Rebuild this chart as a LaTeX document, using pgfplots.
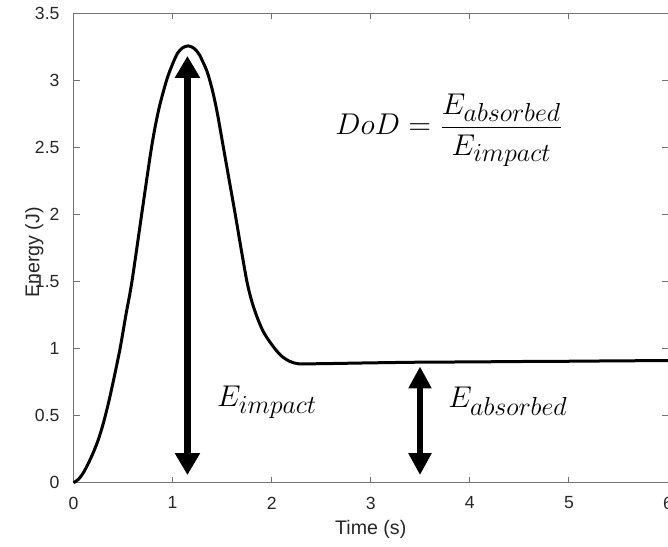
\RequirePackage{fix-cm}
\documentclass[border=0pt]{standalone}
\usepackage{fontspec}
\setmainfont{Liberation Sans}
\usepackage{pgfplots}
\pgfplotsset{compat=1.18}
\usetikzlibrary{arrows.meta,calc}
\DeclareMathSizes{15}{15}{13}{10}
\definecolor{axgray}{HTML}{262626}
\pgfplotstableread{
x y
0.000 0.000
0.050 0.025
0.100 0.075
0.150 0.145
0.200 0.225
0.250 0.320
0.300 0.440
0.350 0.585
0.400 0.750
0.470 1.000
0.530 1.255
0.590 1.500
0.690 2.010
0.790 2.510
0.860 2.780
0.940 3.000
1.000 3.120
1.050 3.200
1.100 3.240
1.159 3.255
1.220 3.235
1.270 3.190
1.300 3.145
1.350 3.060
1.400 2.930
1.450 2.760
1.510 2.510
1.570 2.260
1.630 2.010
1.690 1.750
1.750 1.500
1.800 1.350
1.860 1.220
1.920 1.120
2.000 1.030
2.090 0.950
2.180 0.905
2.270 0.886
2.400 0.886
2.600 0.888
3.000 0.893
3.500 0.898
4.000 0.900
4.500 0.903
5.000 0.905
5.500 0.908
6.000 0.910
}\energy
\begin{document}
\begin{tikzpicture}
\begin{axis}[
  scale only axis, width=297.25pt, height=234.85pt,
  xmin=0, xmax=6, ymin=0, ymax=3.5,
  xtick={0,1,2,3,4,5,6}, ytick={0,0.5,1,1.5,2,2.5,3,3.5},
  axis line style={black!55, line width=0.5pt},
  major tick style={black!55, line width=0.5pt},
  major tick length=3pt,
  tick align=inside,
  /pgf/number format/assume math mode=true,
  ticklabel style={font=\fontsize{8.8}{10}\selectfont, text=axgray},
  xticklabel style={yshift=-3.5pt},
  yticklabel style={xshift=-3.5pt},
  xlabel={Time (s)}, ylabel={Energy (J)},
  every axis x label/.style={font=\fontsize{9.8}{11}\selectfont, text=axgray, at={(axis description cs:0.5,-0.1099)}, anchor=base},
  every axis y label/.style={font=\fontsize{9.8}{11}\selectfont, text=axgray, at={(axis description cs:-0.0575,0.49)}, anchor=base, rotate=89.9},
  clip=false,
]
\addplot[black, line width=1.5pt, smooth, tension=0.5] table[x=x,y=y] {\energy};
\addplot[black, line width=3.3pt, {Triangle[width=12pt,length=11pt]}-{Triangle[width=12pt,length=11pt]}] coordinates {(1.15,0.057) (1.15,3.18)};
\addplot[black, line width=3.3pt, {Triangle[width=11pt,length=11pt]}-{Triangle[width=11pt,length=11pt]}] coordinates {(3.497,0.057) (3.497,0.866)};
\node[anchor=base west, inner sep=0pt, font=\fontsize{15}{18}\selectfont] at (axis cs:1.445,0.567) {$E_{impact}$};
\node[anchor=base west, inner sep=0pt, font=\fontsize{15}{18}\selectfont] at (axis cs:3.78,0.557) {$E_{absorbed}$};
\node[anchor=base west, inner sep=0pt, font=\fontsize{15}{18}\selectfont] at (axis cs:2.64,2.595) {$\displaystyle DoD=\frac{E_{absorbed}}{E_{impact}}$};
\end{axis}
\pgfresetboundingbox
\path[use as bounding box] ($(current axis.south west)+(-36.75pt,-31.65pt)$) rectangle ($(current axis.north east)+(0pt,6.5pt)$);
\end{tikzpicture}
\end{document}
